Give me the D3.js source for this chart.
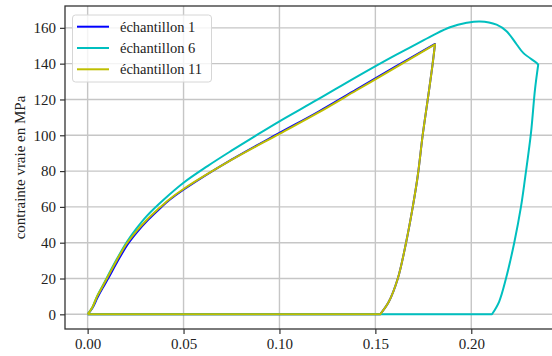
<!DOCTYPE html>
<html lang="fr">
<head>
<meta charset="utf-8">
<title>contrainte vraie</title>
<script src="https://cdnjs.cloudflare.com/ajax/libs/d3/7.8.5/d3.min.js"></script>
<style>
  body { margin: 0; background: #fff; }
  text { font-family: "Liberation Serif", "Times New Roman", serif; fill: #222; }
</style>
</head>
<body>
<script>
// data: strain (x) and true stress in MPa (y)
var seriesNames = ["échantillon 1", "échantillon 6", "échantillon 11"];
var seriesColors = ["#0000ff", "#00bfbf", "#bfbf00"];

var strain1 = [0, 0.0025, 0.0052, 0.0079, 0.0106, 0.0158, 0.021, 0.026, 0.0314, 0.037, 0.0426, 0.0505, 0.075, 0.10, 0.12, 0.14, 0.16, 0.1811,
               0.1797, 0.1773, 0.1747, 0.1721, 0.1695, 0.166, 0.1617, 0.157, 0.1525, 0];
var stress1 = [0, 3.5, 9.5, 14.8, 19.8, 30, 39.3, 46.2, 52.6, 58.4, 63.8, 70, 86.4, 101.3, 113, 125.5, 138, 151,
               138.5, 119.9, 100.3, 77.4, 60, 40, 20, 7, 0, 0];

var strain6 = [0, 0.0025, 0.0049, 0.0075, 0.0101, 0.0153, 0.0205, 0.0255, 0.0309, 0.0396, 0.05, 0.0625, 0.075, 0.0875, 0.10, 0.12, 0.14, 0.16, 0.1716, 0.1802, 0.1889, 0.1976, 0.2045, 0.2132, 0.2184, 0.2237, 0.2271, 0.2341, 0.2349,
               0.2332, 0.2311, 0.2281, 0.2259, 0.2224, 0.2181, 0.2145, 0.2108, 0];
var stress6 = [0, 4, 10, 15.3, 20.6, 31, 40.5, 48, 55, 64, 73.5, 82.8, 91.4, 99.7, 107.8, 120, 132.5, 144.5, 151, 155.9, 160.3, 162.8, 163.6, 161.8, 158.1, 150.7, 146, 140.4, 139.5,
               125.4, 101, 76.5, 60, 40, 20, 7, 0, 0];

var strain11 = [0, 0.0025, 0.0049, 0.0075, 0.0101, 0.0153, 0.0205, 0.0255, 0.0309, 0.0365, 0.0422, 0.05, 0.075, 0.10, 0.12, 0.14, 0.16, 0.1811,
                0.1797, 0.1773, 0.1747, 0.1721, 0.1695, 0.166, 0.1617, 0.157, 0.1525, 0];
var stress11 = [0, 4, 9.9, 15, 20.1, 30.4, 39.7, 46.5, 52.8, 58.5, 63.9, 70, 86.2, 100.8, 112.5, 125, 137.5, 150.8,
                138.5, 119.9, 100.3, 77.4, 60, 40, 20, 7, 0, 0];

var xTicks = [0, 0.05, 0.10, 0.15, 0.20];
var yTicks = [0, 20, 40, 60, 80, 100, 120, 140, 160];

var w = 552, h = 356;
var padL = 65, padT = 6, padB = 329, padR = 562;

var x = d3.scaleLinear().domain([-0.0118, 0.2473]).range([padL, padR]);
var y = d3.scaleLinear().domain([-8.2, 172.2]).range([padB, padT]);

var svg = d3.select("body").append("svg")
  .attr("width", w).attr("height", h);

svg.append("defs").append("clipPath").attr("id", "plot")
  .append("rect").attr("x", padL).attr("y", padT)
  .attr("width", padR - padL).attr("height", padB - padT);

// grid
svg.append("g").selectAll("line").data(xTicks).enter().append("line")
  .attr("x1", function(d) { return x(d); }).attr("x2", function(d) { return x(d); })
  .attr("y1", padT).attr("y2", padB)
  .attr("stroke", "#c6c6c6").attr("stroke-width", 1.4);
svg.append("g").selectAll("line").data(yTicks).enter().append("line")
  .attr("y1", function(d) { return y(d); }).attr("y2", function(d) { return y(d); })
  .attr("x1", padL).attr("x2", padR)
  .attr("stroke", "#c6c6c6").attr("stroke-width", 1.4);

// curves: smooth loading branch, smooth unloading branch, straight return along zero
var smooth = d3.line()
  .x(function(d) { return x(d[0]); })
  .y(function(d) { return y(d[1]); })
  .curve(d3.curveCatmullRom.alpha(0.5));
var straight = d3.line()
  .x(function(d) { return x(d[0]); })
  .y(function(d) { return y(d[1]); });

function curvePath(pts) {
  var peak = d3.maxIndex(pts, function(d) { return d[0]; });
  var n = pts.length;
  var load = smooth(pts.slice(0, peak + 1));
  var unload = smooth(pts.slice(peak, n - 1)).replace(/^M/, "L");
  var back = straight(pts.slice(n - 2)).replace(/^M/, "L");
  return load + unload + back;
}

var curves = [d3.zip(strain1, stress1), d3.zip(strain6, stress6), d3.zip(strain11, stress11)];
var gLines = svg.append("g").attr("clip-path", "url(#plot)");
curves.forEach(function(pts, i) {
  gLines.append("path")
    .attr("d", curvePath(pts))
    .attr("fill", "none")
    .attr("stroke", seriesColors[i])
    .attr("stroke-width", 2)
    .attr("stroke-linejoin", "round");
});

// axes
var xAxis = d3.axisBottom(x).tickValues(xTicks).tickFormat(d3.format(".2f")).tickSize(5).tickPadding(4);
var yAxis = d3.axisLeft(y).tickValues(yTicks).tickSize(5).tickPadding(4);

var gx = svg.append("g").attr("transform", "translate(0," + padB + ")").call(xAxis);
var gy = svg.append("g").attr("transform", "translate(" + padL + ",0)").call(yAxis);
[gx, gy].forEach(function(g) {
  g.attr("font-family", null);
  g.select(".domain").remove();
  g.selectAll(".tick line").attr("stroke", "#333").attr("stroke-width", 1.2);
  g.selectAll(".tick text").attr("font-size", "15px").attr("fill", "#222");
});

// frame
svg.append("rect")
  .attr("x", padL).attr("y", padT)
  .attr("width", padR - padL).attr("height", padB - padT)
  .attr("fill", "none").attr("stroke", "#333").attr("stroke-width", 1.3);

// y label
svg.append("text")
  .attr("transform", "translate(20," + ((padT + padB) / 2) + ") rotate(-90)")
  .attr("text-anchor", "middle")
  .attr("dominant-baseline", "central")
  .attr("font-size", "15px")
  .text("contrainte vraie en MPa");

// legend
var lg = svg.append("g");
lg.append("rect")
  .attr("x", 72.5).attr("y", 15).attr("width", 139).attr("height", 67)
  .attr("rx", 3).attr("fill", "#fff").attr("fill-opacity", 0.8)
  .attr("stroke", "#d6d6d6").attr("stroke-width", 1);
seriesNames.forEach(function(name, i) {
  var yy = 26.7 + i * 21.3;
  lg.append("line")
    .attr("x1", 77).attr("x2", 109).attr("y1", yy).attr("y2", yy)
    .attr("stroke", seriesColors[i]).attr("stroke-width", 2);
  lg.append("text")
    .attr("x", 120).attr("y", yy)
    .attr("dominant-baseline", "central")
    .attr("font-size", "14.5px")
    .text(name);
});
</script>
</body>
</html>
